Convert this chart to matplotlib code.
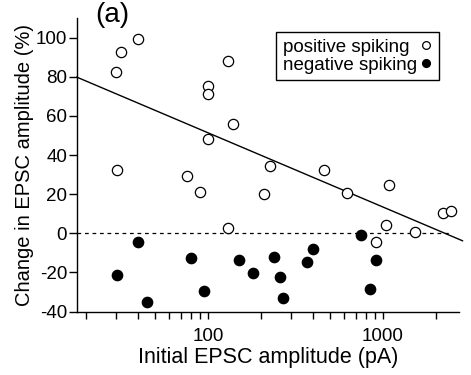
import matplotlib
matplotlib.use("Agg")
import matplotlib.pyplot as plt
from matplotlib.ticker import LogLocator, NullFormatter, FixedLocator

plt.rcParams['font.family'] = ['Liberation Sans', 'DejaVu Sans']
plt.rcParams['axes.unicode_minus'] = False

# open circles: positive spiking
pos_x = [30, 32, 40, 130, 100, 100, 139, 100, 30.4, 76, 90, 130,
         227, 462, 208, 622, 1081, 1045, 1517, 916, 2218, 2434]
pos_y = [82.4, 92.6, 99.5, 88.2, 75.2, 71.2, 55.6, 48.4, 32.6, 29.5, 21.0, 2.5,
         34.3, 32.6, 20.3, 20.7, 24.6, 4.2, 0.9, -4.2, 10.2, 11.6]

# filled circles: negative spiking
neg_x = [40, 30.2, 45, 80, 94.4, 150, 181, 238, 259, 268, 369, 400, 745, 916, 849]
neg_y = [-4.4, -21.5, -35.0, -12.4, -29.4, -13.6, -20.2, -12.2, -22.5, -32.8,
         -14.7, -7.8, -0.8, -13.6, -28.5]

# regression line end points and zero reference line
fit_x = [17.8, 2850]
fit_y = [79.8, -3.8]
zero_x = [17.8, 2450]
zero_y = [0, 0]

fig = plt.figure(figsize=(4.71, 3.75), dpi=100)
ax = fig.add_axes([0.163, 0.169, 0.812, 0.783])

ax.plot(fit_x, fit_y, color='black', lw=1.0, clip_on=False, zorder=2)
ax.plot(zero_x, zero_y, color='black', lw=0.9, ls=(0, (3, 3)), zorder=2)
ax.plot(pos_x, pos_y, 'o', ms=7.4, mfc='white', mec='black', mew=0.9,
        label='positive spiking', zorder=3)
ax.plot(neg_x, neg_y, 'o', ms=7.4, mfc='black', mec='black',
        label='negative spiking', zorder=3)

ax.set_xscale('log')
ax.set_xlim(17.8, 2730)
ax.set_ylim(-40, 110)
ax.xaxis.set_major_locator(FixedLocator([100, 1000]))
ax.xaxis.set_minor_locator(LogLocator(base=10, subs=range(2, 10), numticks=20))
ax.xaxis.set_minor_formatter(NullFormatter())
ax.set_xticklabels(['100', '1000'])
ax.set_yticks(range(-40, 101, 20))

for s in ['top', 'right']:
    ax.spines[s].set_visible(False)
for s in ['left', 'bottom']:
    ax.spines[s].set_linewidth(1.0)

ax.tick_params(axis='both', which='both', direction='out', width=1.0,
               labelsize=13.5, colors='black')
ax.tick_params(axis='x', which='both', length=5, pad=7)
ax.tick_params(axis='y', which='major', length=6, pad=1)

ax.set_xlabel('Initial EPSC amplitude (pA)', fontsize=15.5, labelpad=1)
ax.set_ylabel('Change in EPSC amplitude (%)', fontsize=14.5, labelpad=1)

leg = ax.legend(loc='upper right', bbox_to_anchor=(0.946, 0.952),
                markerfirst=False, fontsize=13.5, frameon=True, fancybox=False,
                edgecolor='black', framealpha=1, handlelength=0.6,
                handletextpad=0.2, borderpad=0.35, labelspacing=0.05,
                markerscale=0.75, borderaxespad=0)
leg.get_frame().set_linewidth(1.0)

# left-align the labels, keep the markers in one column on the right
fig.canvas.draw()
r = fig.canvas.get_renderer()
widths = [t.get_window_extent(r).width * 72 / fig.dpi for t in leg.get_texts()]
col = leg._legend_handle_box.get_children()[0]
col.align = 'left'
for item, w in zip(col.get_children(), widths):
    item.sep += max(widths) - w

fig.text(112 / 471, 1 - 15 / 375, '(a)', fontsize=20, ha='center', va='center')

fig.savefig('out.png', dpi=100)
